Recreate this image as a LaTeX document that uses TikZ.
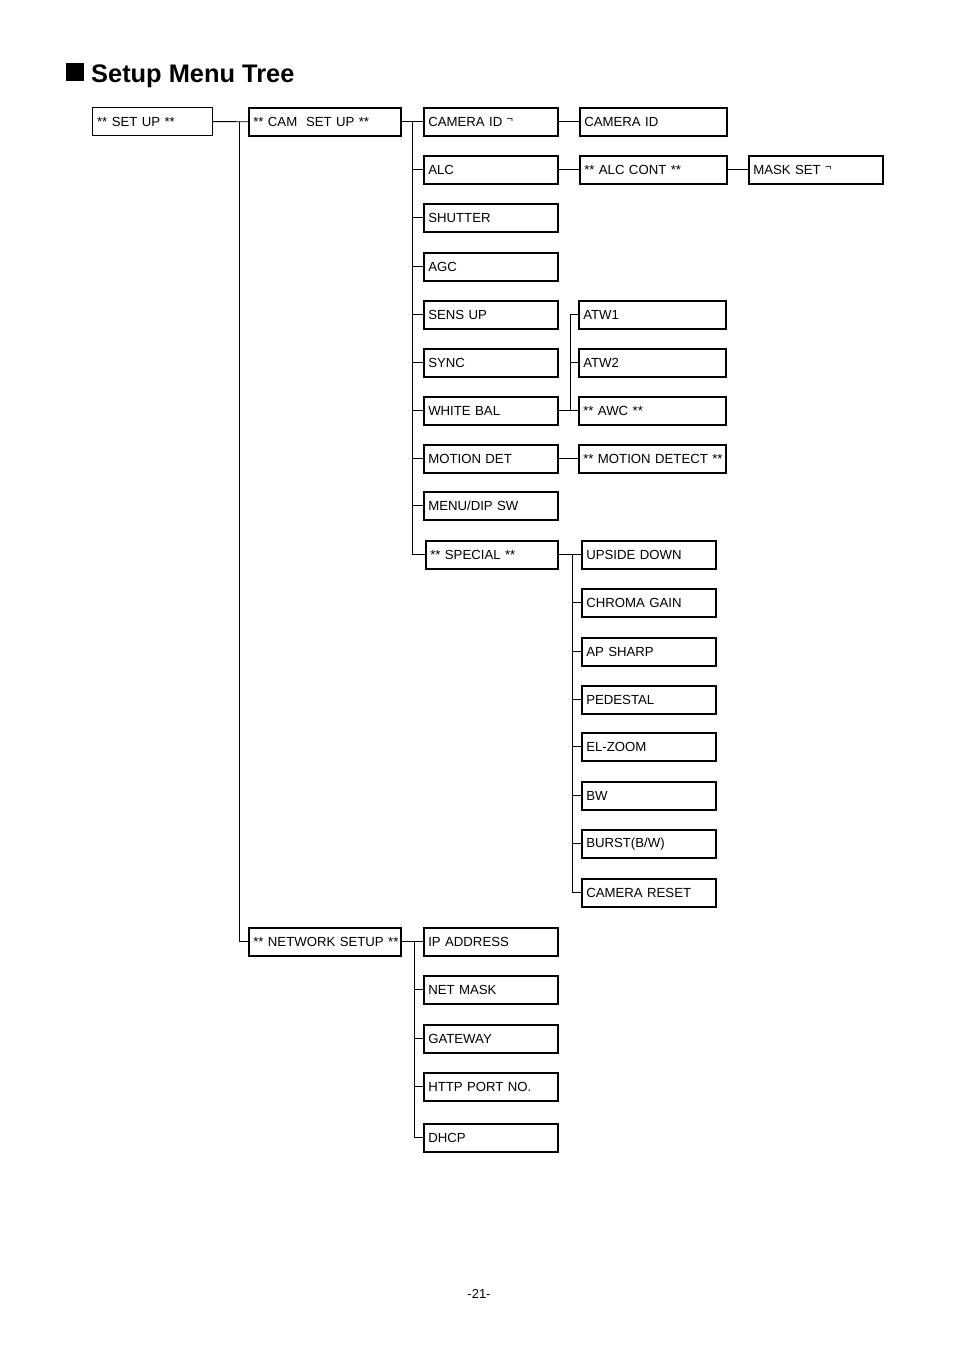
\documentclass[tikz,border=0pt]{standalone}
\usepackage{fontspec}
\setmainfont{Liberation Sans}
\newcommand{\mk}{\raisebox{0.32em}{\fontsize{11}{11}\selectfont ¬}}
\tikzset{
  box/.style={draw, line width=1.5pt, anchor=north west, inner xsep=4.5pt, inner ysep=0pt,
    align=left, minimum height=28pt, text width=125pt, font=\fontsize{13.2}{14}\selectfont},
  wide/.style={text width=138pt},
  conn/.style={line width=0.9pt}
}
\begin{document}
\begin{tikzpicture}[x=1pt,y=-1pt]
\useasboundingbox (0,0) rectangle (954,1349);
% title
\fill (66,63) rectangle (84,81);
\node[anchor=base west, inner sep=0pt, font=\fontsize{25.4}{30}\selectfont\bfseries] (title) at (91,82) {Setup Menu Tree};
% level 1
\node[box, text width=111pt, line width=1.2pt, minimum height=28pt] (setup) at (92,107) {\mbox{** SET UP **}};
\node[box, text width=143pt] (cam) at (248,107) {\mbox{** CAM\ \ SET UP **}};
\node[box, text width=143pt] (net) at (248,927) {\mbox{** NETWORK SETUP **}};
% cam children
\node[box] (camid) at (423,107) {\mbox{CAMERA ID \mk}};
\node[box] (alc) at (423,155) {ALC};
\node[box] (shutter) at (423,203) {SHUTTER};
\node[box] (agc) at (423,252) {AGC};
\node[box] (sens) at (423,300) {SENS UP};
\node[box] (sync) at (423,348) {SYNC};
\node[box] (wb) at (423,396) {\mbox{WHITE BAL}};
\node[box] (md) at (423,444) {\mbox{MOTION DET}};
\node[box] (menu) at (423,491) {\mbox{MENU/DIP SW}};
\node[box, text width=123pt] (special) at (425,540) {\mbox{** SPECIAL **}};
% third level
\node[box, wide] (camid2) at (579,107) {\mbox{CAMERA ID}};
\node[box, wide] (alccont) at (579,155) {\mbox{** ALC CONT **}};
\node[box] (mask) at (748,155) {\mbox{MASK SET \mk}};
\node[box, wide] (atw1) at (578,300) {ATW1};
\node[box, wide] (atw2) at (578,348) {ATW2};
\node[box, wide] (awc) at (578,396) {\mbox{** AWC **}};
\node[box, wide] (mdet) at (578,444) {\mbox{** MOTION DETECT **}};
% special children
\node[box] (upside) at (581,540) {\mbox{UPSIDE DOWN}};
\node[box] (chroma) at (581,588) {\mbox{CHROMA GAIN}};
\node[box] (ap) at (581,637) {\mbox{AP SHARP}};
\node[box] (ped) at (581,685) {PEDESTAL};
\node[box] (el) at (581,732) {EL-ZOOM};
\node[box] (bw) at (581,781) {BW};
\node[box] (burst) at (581,829) {\mbox{BURST(B/W)}};
\node[box] (reset) at (581,878) {\mbox{CAMERA RESET}};
% network children
\node[box] (ip) at (423,927) {\mbox{IP ADDRESS}};
\node[box] (mask2) at (423,975) {\mbox{NET MASK}};
\node[box] (gw) at (423,1024) {GATEWAY};
\node[box] (http) at (423,1072) {\mbox{HTTP PORT NO.}};
\node[box] (dhcp) at (423,1123) {DHCP};
% page number
\node[anchor=base, inner sep=0pt, font=\fontsize{13}{14}\selectfont] (page) at (479,1298) {-21-};
% connectors
\path (setup.east) ++(26,0) coordinate (t1);
\draw[conn] (setup.east) -- (cam.west);
\draw[conn] (t1) |- (net.west);
\path (cam.east) ++(11,0) coordinate (t2);
\draw[conn] (cam.east) -- (camid.west);
\draw[conn] (t2) |- (special.west);
\foreach \n in {alc,shutter,agc,sens,sync,wb,md,menu}
  \draw[conn] (t2 |- \n.west) -- (\n.west);
\draw[conn] (camid.east) -- (camid2.west);
\draw[conn] (alc.east) -- (alccont.west);
\draw[conn] (alccont.east) -- (mask.west);
\draw[conn] (md.east) -- (mdet.west);
\path (wb.east) ++(12,0) coordinate (t3);
\draw[conn] (wb.east) -- (awc.west);
\draw[conn] (t3) |- (atw1.west);
\draw[conn] (t3 |- atw2.west) -- (atw2.west);
\path (special.east) ++(14,0) coordinate (t4);
\draw[conn] (special.east) -- (upside.west);
\draw[conn] (t4) |- (reset.west);
\foreach \n in {chroma,ap,ped,el,bw,burst}
  \draw[conn] (t4 |- \n.west) -- (\n.west);
\path (net.east) ++(13,0) coordinate (t5);
\draw[conn] (net.east) -- (ip.west);
\draw[conn] (t5) |- (dhcp.west);
\foreach \n in {mask2,gw,http}
  \draw[conn] (t5 |- \n.west) -- (\n.west);
\end{tikzpicture}
\end{document}
